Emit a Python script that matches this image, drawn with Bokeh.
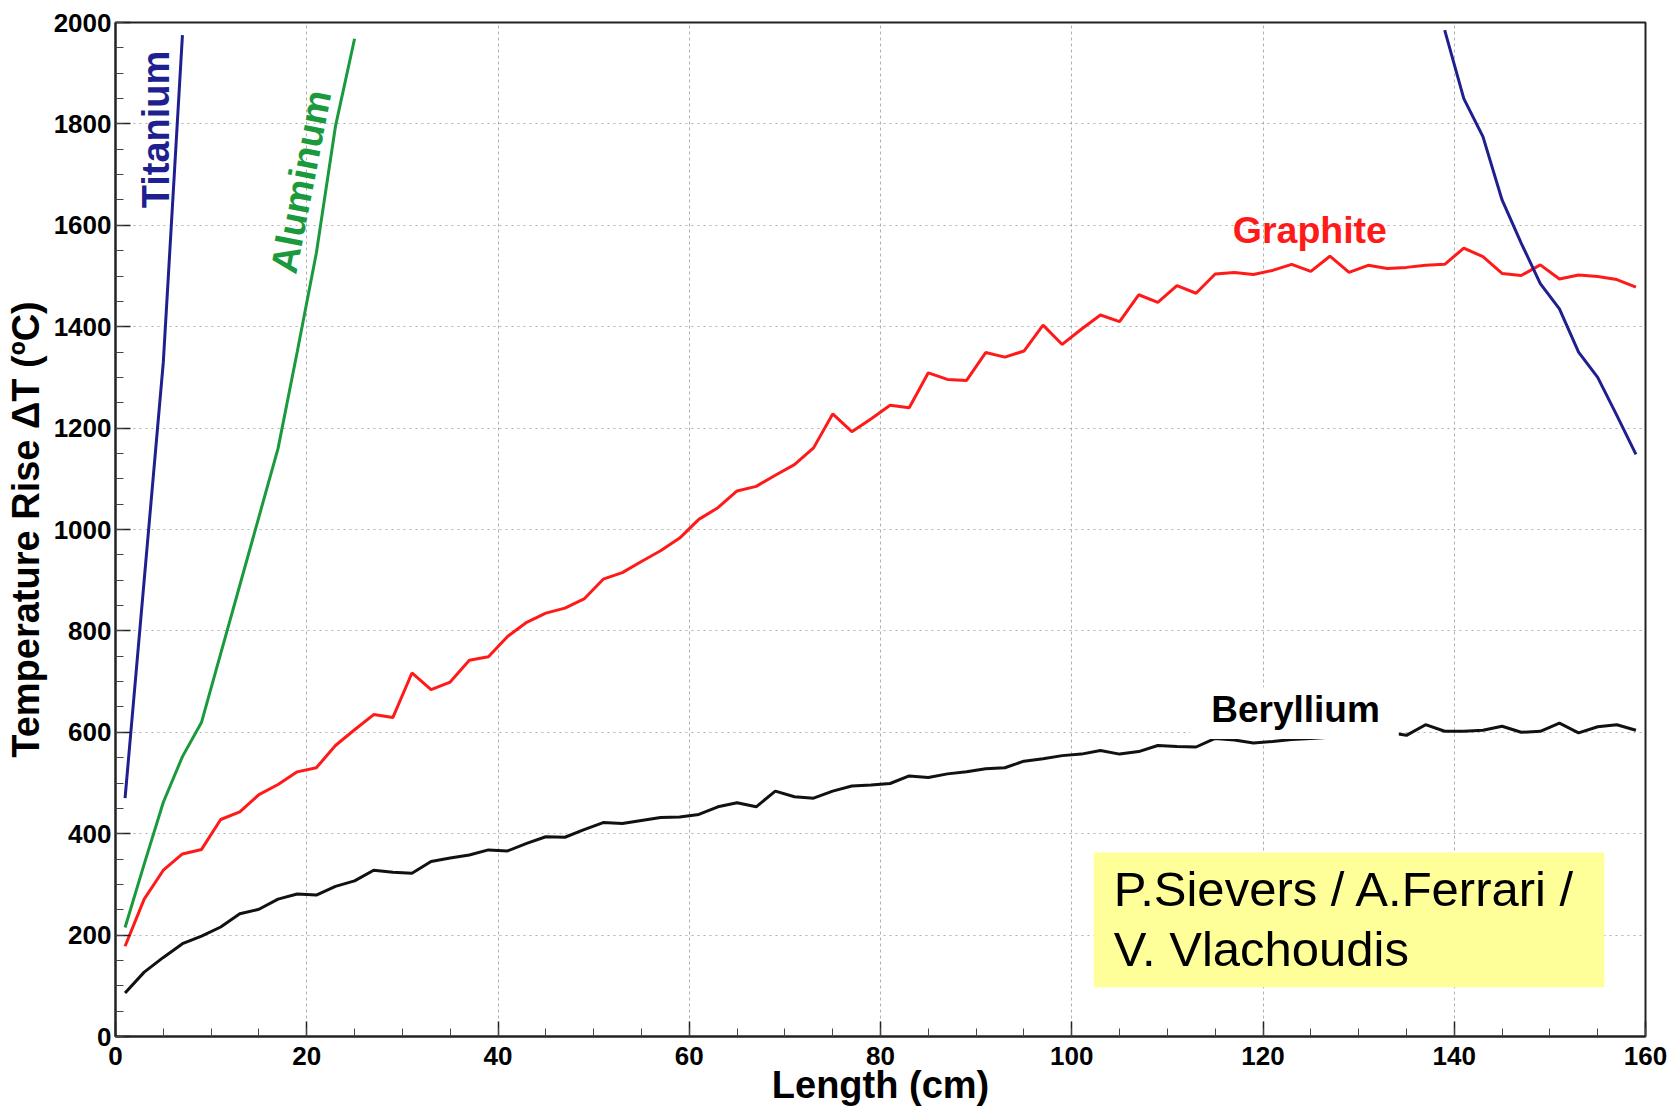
import math
from bokeh.plotting import figure
from bokeh.models import Range1d, Label, BoxAnnotation, SingleIntervalTicker
from bokeh.embed import file_html
from bokeh.resources import INLINE

# ---------------- data ----------------
length_cm = list(range(1, 161, 2))

graphite = [178, 271, 328, 360, 369, 428, 443, 477, 497, 522,
            530, 574, 605, 635, 629, 717, 684, 699, 742, 749,
            789, 817, 835, 845, 863, 902, 915, 937, 958, 983,
            1020, 1043, 1076, 1085, 1107, 1128, 1161, 1228, 1193, 1218,
            1245, 1240, 1309, 1296, 1294, 1349, 1340, 1352, 1403, 1365,
            1395, 1423, 1410, 1463, 1448, 1481, 1466, 1504, 1507, 1503,
            1511, 1523, 1509, 1539, 1507, 1521, 1515, 1517, 1521, 1523,
            1555, 1538, 1505, 1501, 1522, 1494, 1502, 1499, 1493, 1478]

beryllium = [86, 127, 156, 183, 198, 216, 242, 251, 271, 281,
             279, 296, 307, 328, 324, 322, 345, 352, 358, 368,
             366, 381, 394, 393, 408, 422, 420, 426, 432, 433,
             438, 453, 461, 453, 484, 473, 470, 484, 494, 496,
             499, 514, 511, 518, 522, 528, 530, 543, 548, 554,
             557, 564, 557, 562, 574, 572, 571, 588, 585, 579,
             582, 586, 588, 590, 593, 596, 600, 594, 615, 602,
             602, 604, 612, 600, 602, 618, 599, 611, 615, 604]

aluminum_x = [1, 3, 5, 7, 9, 11, 13, 15, 17, 19, 21, 23, 25]
aluminum = [215, 340, 462, 552, 620, 755, 890, 1025, 1160, 1350, 1545, 1795, 1968]

titanium_x = [1, 3, 5, 7]
titanium = [470, 900, 1330, 1975]

titanium_far_x = [139, 141, 143, 145, 147, 149, 151, 153, 155, 157, 159]
titanium_far = [1985, 1850, 1775, 1650, 1565, 1485, 1435, 1350, 1300, 1225, 1148]

FONT = "Liberation Sans"
C_TI = "#1f1f8f"
C_AL = "#1a9a3c"
C_GR = "#ff1a1a"
C_BE = "#111111"

# ---------------- figure ----------------
p = figure(width=1668, height=1115, output_backend="svg", toolbar_location=None,
           x_range=Range1d(0, 160), y_range=Range1d(0, 2000),
           min_border_left=115, min_border_right=23,
           min_border_top=22, min_border_bottom=79)
p.background_fill_color = "white"
p.border_fill_color = "white"
p.outline_line_color = "#222222"
p.outline_line_width = 2

p.xaxis.ticker = SingleIntervalTicker(interval=20, num_minor_ticks=4)
p.yaxis.ticker = SingleIntervalTicker(interval=200, num_minor_ticks=4)
p.xgrid.ticker = SingleIntervalTicker(interval=20)
p.ygrid.ticker = SingleIntervalTicker(interval=200)

for ax in (p.xaxis[0], p.yaxis[0]):
    ax.axis_line_width = 2
    ax.axis_line_color = "#222222"
    ax.major_tick_in = 15
    ax.major_tick_out = 0
    ax.minor_tick_in = 8
    ax.minor_tick_out = 0
    ax.major_tick_line_color = "#222222"
    ax.minor_tick_line_color = "#444444"
    ax.major_tick_line_width = 1.5
    ax.major_label_text_font = FONT
    ax.major_label_text_font_style = "bold"
    ax.major_label_text_font_size = "26px"
    ax.major_label_text_color = "black"
    ax.axis_label_text_font = FONT
    ax.axis_label_text_font_style = "bold"
    ax.axis_label_text_color = "black"

p.xaxis.major_label_standoff = 10
p.yaxis.major_label_standoff = 4
p.xaxis.axis_label = "Length (cm)"
p.xaxis.axis_label_text_font_size = "38px"
p.xaxis.axis_label_standoff = -4
p.yaxis.axis_label = "Temperature Rise \u0394T (\u00baC)"
p.yaxis.axis_label_text_font_size = "38px"
p.yaxis.axis_label_standoff = 4

for g in (p.xgrid[0], p.ygrid[0]):
    g.grid_line_color = "#b0b0b0"
    g.grid_line_width = 1
p.xgrid.grid_line_dash = "3 3"
p.ygrid.grid_line_dash = "2 4"

# ---------------- curves ----------------
lw = 3
p.line(length_cm, beryllium, line_color=C_BE, line_width=lw)
p.line(length_cm, graphite, line_color=C_GR, line_width=lw)
p.line(aluminum_x, aluminum, line_color=C_AL, line_width=lw)
p.line(titanium_x, titanium, line_color=C_TI, line_width=lw)
p.line(titanium_far_x, titanium_far, line_color=C_TI, line_width=lw)

# ---------------- annotations ----------------
def lab(x, y, text, color="black", size="36px", style="bold", angle=0.0,
        align="center", baseline="alphabetic"):
    p.add_layout(Label(x=x, y=y, text=text, text_color=color, text_font=FONT,
                       text_font_size=size, text_font_style=style, angle=angle,
                       text_align=align, text_baseline=baseline))

lab(4.2, 1789, "Titanium", color=C_TI, size="38px", angle=math.pi / 2)
lab(19.4, 1686, "Aluminum", color=C_AL, size="38px", angle=math.radians(79))
lab(124.9, 1590, "Graphite", color=C_GR, size="37.5px")

p.add_layout(BoxAnnotation(left=112.4, right=134.2, bottom=587, top=689,
                           fill_color="white", fill_alpha=1.0, line_color=None))
lab(123.4, 645, "Beryllium", color="black", size="37px")

p.add_layout(BoxAnnotation(left=102.3, right=155.7, bottom=97, top=363,
                           fill_color="#FFFF99", fill_alpha=1.0, line_color=None))
lab(104.4, 290, "P.Sievers / A.Ferrari /", size="49px", style="normal", align="left")
lab(104.4, 172, "V. Vlachoudis", size="49px", style="normal", align="left")

open("out.html", "w").write(file_html(p, INLINE))
